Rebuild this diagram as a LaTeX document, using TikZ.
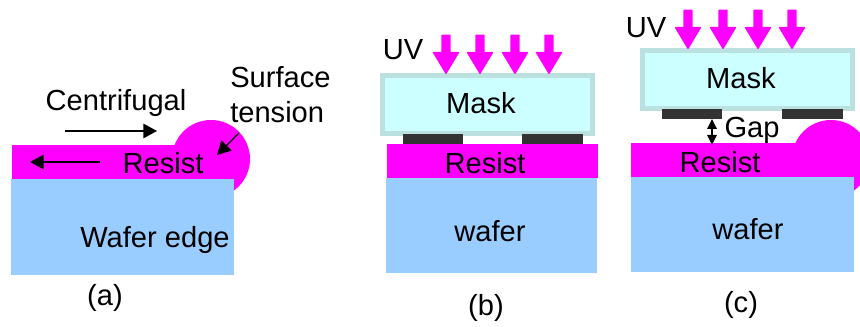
\documentclass[tikz,border=0pt]{standalone}
\usepackage{fontspec}
\setmainfont{Liberation Sans}
\usetikzlibrary{arrows.meta,shapes.arrows}
\pgfdeclarelayer{bg}
\pgfsetlayers{bg,main}
\definecolor{resistpink}{HTML}{FF00FF}
\definecolor{waferblue}{HTML}{99CCFF}
\definecolor{maskfill}{HTML}{CCFFFF}
\definecolor{maskline}{HTML}{BBE0E0}
\definecolor{padgrey}{HTML}{333333}
\tikzset{
    every node/.style={inner sep=0mm, font=\fontsize{20.7}{25}\selectfont},
    resist/.style={rectangle, fill=resistpink, minimum height=0.85cm},
    drop/.style={circle, fill=resistpink, minimum size=1.95cm},
    wafer/.style={rectangle, fill=waferblue, minimum width=5.575cm},
    mask/.style={rectangle, fill=maskfill, draw=maskline, line width=0.125cm, minimum width=5.25cm, minimum height=1.45cm},
    pad/.style={rectangle, fill=padgrey, minimum height=0.25cm},
    uv/.style={single arrow, shape border rotate=270, fill=resistpink, draw=resistpink, line width=1pt, line join=round,
        inner sep=0.07cm, single arrow tip angle=62, single arrow head extend=0.19cm, minimum width=0.62cm, minimum height=0.95cm},
    force/.style={line width=1pt, -{Triangle[length=0.34cm, width=0.36cm]}},
    gap/.style={line width=1pt, {Triangle[length=0.25cm, width=0.24cm]}-{Triangle[length=0.25cm, width=0.24cm]}}
}

\begin{document}
\begin{tikzpicture}
    \useasboundingbox (0,0) rectangle (21.5cm, 8.175cm);

    % (a)
    \begin{pgfonlayer}{bg}
        \node (dropa) at (5.275cm, 4.2cm) [drop] {};
        \node (resista) at (2.8cm, 4.125cm) [resist, minimum width=5.0cm] {};
        \node (wafera) at (3.0625cm, 2.5cm) [wafer, minimum height=2.4cm] {};
    \end{pgfonlayer}

    \node (cfa) at (2.9cm, 5.6cm) {Centrifugal};
    \node (sta) at (5.75cm, 5.8cm) [anchor=west, align=left] {Surface\\tension};
    \node (ra) at (4.075cm, 4.1cm) {Resist};
    \node (wa) at (3.875cm, 2.175cm) {Wafer edge};
    \node (ca) at (2.625cm, 0.725cm) {(a)};

    \coordinate (f1s) at (1.625cm, 4.9cm);
    \coordinate (f1e) at (3.925cm, 4.9cm);
    \coordinate (f2s) at (2.5cm, 4.125cm);
    \coordinate (f2e) at (0.75cm, 4.125cm);
    \coordinate (f3s) at (5.975cm, 4.85cm);
    \coordinate (f3e) at (5.425cm, 4.3cm);
    \draw[force] (f1s) -- (f1e);
    \draw[force] (f2s) -- (f2e);
    \draw[force] (f3s) -- (f3e);

    % (b)
    \begin{pgfonlayer}{bg}
        \node (resistb) at (12.3125cm, 4.15cm) [resist, minimum width=5.275cm] {};
        \node (waferb) at (12.2875cm, 2.5375cm) [wafer, minimum width=5.275cm, minimum height=2.375cm] {};
        \node (maskb) at (12.1875cm, 5.5625cm) [mask] {};
        \node (padb1) at (10.825cm, 4.7cm) [pad, minimum width=1.5cm] {};
        \node (padb2) at (13.8125cm, 4.7cm) [pad, minimum width=1.525cm] {};
    \end{pgfonlayer}

    \node (uvb1) at (11.15cm, 6.9cm) [uv] {};
    \node (uvb2) at (12.0cm, 6.9cm) [uv] {};
    \node (uvb3) at (12.875cm, 6.9cm) [uv] {};
    \node (uvb4) at (13.725cm, 6.9cm) [uv] {};

    \node (uvtb) at (10.075cm, 6.925cm) {UV};
    \node (mb) at (12.025cm, 5.6cm) {Mask};
    \node (rb) at (12.125cm, 4.1cm) {Resist};
    \node (wb) at (12.25cm, 2.4cm) {wafer};
    \node (cb) at (12.15cm, 0.475cm) {(b)};

    % (c)
    \begin{pgfonlayer}{bg}
        \begin{scope}
            \clip (0,0) rectangle (21.5cm, 8.175cm);
            \node (dropc) at (20.775cm, 4.2cm) [drop] {};
        \end{scope}
        \node (resistc) at (18.275cm, 4.175cm) [resist, minimum width=5.0cm] {};
        \node (waferc) at (18.5625cm, 2.5625cm) [wafer, minimum height=2.375cm] {};
        \node (maskc) at (18.6875cm, 6.1875cm) [mask] {};
        \node (padc1) at (17.3cm, 5.325cm) [pad, minimum width=1.5cm] {};
        \node (padc2) at (20.3125cm, 5.325cm) [pad, minimum width=1.525cm] {};
    \end{pgfonlayer}

    \node (uvc1) at (17.2cm, 7.525cm) [uv] {};
    \node (uvc2) at (18.075cm, 7.525cm) [uv] {};
    \node (uvc3) at (18.95cm, 7.525cm) [uv] {};
    \node (uvc4) at (19.8cm, 7.525cm) [uv] {};

    \node (uvtc) at (16.15cm, 7.475cm) {UV};
    \node (mc) at (18.525cm, 6.225cm) {Mask};
    \node (gc) at (18.8cm, 4.925cm) {Gap};
    \node (rc) at (18.0cm, 4.125cm) {Resist};
    \node (wc) at (18.7cm, 2.45cm) {wafer};
    \node (cc) at (18.525cm, 0.55cm) {(c)};

    \coordinate (gs) at (17.8cm, 5.2cm);
    \coordinate (ge) at (17.8cm, 4.55cm);
    \draw[gap] (gs) -- (ge);
\end{tikzpicture}
\end{document}
